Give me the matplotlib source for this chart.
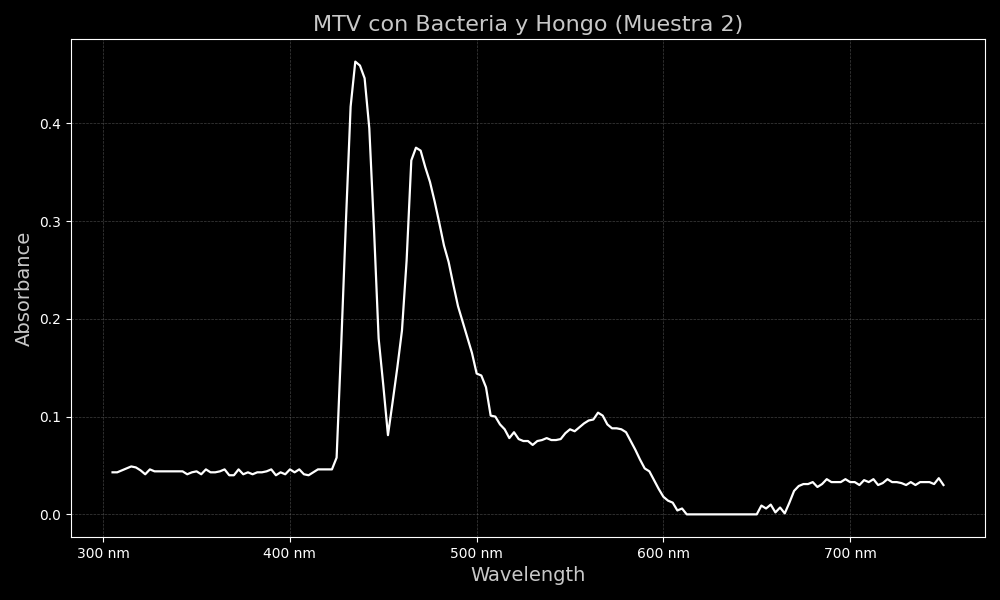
import numpy as np
import matplotlib
matplotlib.use("Agg")
import matplotlib.pyplot as plt
from matplotlib.ticker import FuncFormatter


# ── Data (2.5 nm sampling) ─────────────────────────────────────────────────────

wavelength = np.arange(305.0, 752.5, 2.5)

abs_baseline = [  # 305 – 422.5 nm
    0.043, 0.043, 0.045, 0.047, 0.049, 0.048, 0.045, 0.041, 0.046, 0.044,
    0.044, 0.044, 0.044, 0.044, 0.044, 0.044, 0.041, 0.043, 0.044, 0.041,
    0.046, 0.043, 0.043, 0.044, 0.046, 0.040, 0.040, 0.046, 0.041, 0.043,
    0.041, 0.043, 0.043, 0.044, 0.046, 0.040, 0.043, 0.041, 0.046, 0.043,
    0.046, 0.041, 0.040, 0.043, 0.046, 0.046, 0.046, 0.046,
]
abs_peaks = [  # 425 – 510 nm
    0.058, 0.175, 0.300, 0.417, 0.463, 0.459, 0.446, 0.395, 0.293, 0.180,
    0.132, 0.081, 0.115, 0.150, 0.188, 0.260, 0.362, 0.375, 0.372, 0.355,
    0.340, 0.320, 0.298, 0.275, 0.258, 0.235, 0.213, 0.197, 0.181, 0.165,
    0.144, 0.142, 0.130, 0.101, 0.100,
]
abs_shoulder = [  # 512.5 – 610 nm
    0.092, 0.087, 0.078, 0.084, 0.077, 0.075, 0.075, 0.071, 0.075, 0.076,
    0.078, 0.076, 0.076, 0.077, 0.083, 0.087, 0.085, 0.089, 0.093, 0.096,
    0.097, 0.104, 0.101, 0.092, 0.088, 0.088, 0.087, 0.084, 0.075, 0.066,
    0.056, 0.047, 0.044, 0.035, 0.026, 0.018, 0.014, 0.012, 0.004, 0.006,
]
abs_tail = [  # 612.5 – 750 nm
    0.000, 0.000, 0.000, 0.000, 0.000, 0.000, 0.000, 0.000, 0.000, 0.000,
    0.000, 0.000, 0.000, 0.000, 0.000, 0.000, 0.009, 0.006, 0.010, 0.002,
    0.007, 0.001, 0.012, 0.024, 0.029, 0.031, 0.031, 0.033, 0.028, 0.031,
    0.036, 0.033, 0.033, 0.033, 0.036, 0.033, 0.033, 0.030, 0.035, 0.033,
    0.036, 0.030, 0.032, 0.036, 0.033, 0.033, 0.032, 0.030, 0.033, 0.030,
    0.033, 0.033, 0.033, 0.031, 0.037, 0.030,
]
absorbance = np.array(abs_baseline + abs_peaks + abs_shoulder + abs_tail)

x_ticks = [300, 400, 500, 600, 700]
y_ticks = [0.0, 0.1, 0.2, 0.3, 0.4]


# ── Plot ──────────────────────────────────────────────────────────────────────

plt.style.use("dark_background")
fig, ax = plt.subplots(figsize=(10, 6), dpi=100, facecolor="black")
fig.subplots_adjust(left=0.071, right=0.985, top=0.935, bottom=0.105)

ax.plot(wavelength, absorbance, color="white", linewidth=1.6)

ax.set_xticks(x_ticks)
ax.set_yticks(y_ticks)
ax.xaxis.set_major_formatter(FuncFormatter(lambda v, _: f"{v:.0f} nm"))
ax.tick_params(labelsize=10, colors="white")

ax.grid(True, linestyle="--", linewidth=0.5, color="gray", alpha=0.5)
ax.set_facecolor("black")
for s in ax.spines.values():
    s.set_color("white")

label_color = "#c8c8c8"
ax.set_title("MTV con Bacteria y Hongo (Muestra 2)", fontsize=16, color=label_color)
ax.set_xlabel("Wavelength", fontsize=14, color=label_color)
ax.set_ylabel("Absorbance", fontsize=14, color=label_color)

fig.savefig("out.png", facecolor="black")
